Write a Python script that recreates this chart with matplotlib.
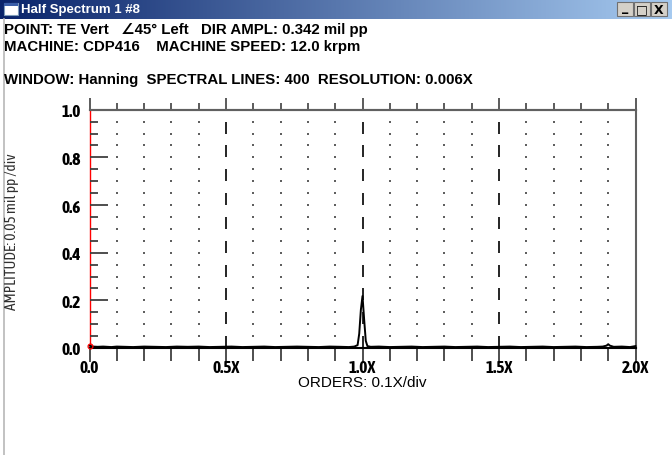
import numpy as np
import matplotlib
matplotlib.use("Agg")
import matplotlib.pyplot as plt
from matplotlib.patches import Rectangle
from matplotlib import font_manager as fm

# ---------------- data ----------------
orders = [0.000, 0.012, 0.030, 0.050, 0.080, 0.100, 0.130, 0.160, 0.200, 0.240,
          0.280, 0.320, 0.360, 0.400, 0.440, 0.480, 0.520, 0.560, 0.600, 0.640,
          0.680, 0.720, 0.760, 0.800, 0.840, 0.880, 0.920, 0.950, 0.970, 0.982,
          0.988, 0.994, 1.000, 1.006, 1.012, 1.018, 1.030, 1.060, 1.100, 1.140,
          1.180, 1.220, 1.260, 1.300, 1.340, 1.380, 1.420, 1.460, 1.500, 1.540,
          1.580, 1.620, 1.660, 1.700, 1.740, 1.780, 1.820, 1.860, 1.880, 1.894,
          1.900, 1.906, 1.920, 1.950, 1.980, 2.000]
amplitude = [0.010, 0.006, 0.005, 0.006, 0.004, 0.006, 0.005, 0.004, 0.006, 0.005,
             0.004, 0.006, 0.005, 0.006, 0.004, 0.005, 0.006, 0.004, 0.005, 0.006,
             0.004, 0.005, 0.006, 0.005, 0.004, 0.006, 0.005, 0.004, 0.006, 0.012,
             0.060, 0.160, 0.218, 0.120, 0.030, 0.008, 0.005, 0.006, 0.004, 0.005,
             0.006, 0.004, 0.005, 0.006, 0.004, 0.005, 0.006, 0.004, 0.005, 0.006,
             0.004, 0.005, 0.006, 0.004, 0.005, 0.006, 0.004, 0.005, 0.006, 0.010,
             0.016, 0.010, 0.005, 0.006, 0.004, 0.008]

x_ticks = [0.0, 0.5, 1.0, 1.5, 2.0]
x_tick_labels = ["0.0", "0.5X", "1.0X", "1.5X", "2.0X"]
y_ticks = [0.0, 0.2, 0.4, 0.6, 0.8, 1.0]
y_tick_labels = ["0.0", "0.2", "0.4", "0.6", "0.8", "1.0"]
x_minor = np.round(np.arange(0.0, 2.0001, 0.1), 3)
y_minor = np.round(np.arange(0.0, 1.0001, 0.05), 3)

title_text = "Half Spectrum 1 #8"
header1 = "POINT: TE Vert   \u222045\u00b0 Left   DIR AMPL: 0.342 mil pp"
header2 = "MACHINE: CDP416    MACHINE SPEED: 12.0 krpm"
header3 = "WINDOW: Hanning  SPECTRAL LINES: 400  RESOLUTION: 0.006X"
y_label = "AMPLITUDE: 0.05 mil pp /div"
x_label = "ORDERS: 0.1X/div"

# ---------------- fonts ----------------
entries = fm.fontManager.ttflist
narrow = None
for f in entries:
    if ("Narrow" in f.name or "Condensed" in f.name) and f.weight in ("bold", 700):
        narrow = f.name
        break
if narrow is None:
    narrow = "Liberation Sans"
hdr_fam = ["Liberation Sans", "DejaVu Sans"]
nar_fam = [narrow, "Liberation Sans", "DejaVu Sans"]

W, H = 672, 456
fig = plt.figure(figsize=(W / 100, H / 100), dpi=100)
fig.patch.set_facecolor("white")

def fx(px):
    return px / W

def fy(py):
    return 1 - py / H

# ---------------- title bar ----------------
tb_h = 20
tax = fig.add_axes([0, fy(tb_h), 1, tb_h / H])
grad = np.linspace(0, 1, 256)[None, :]
c0 = np.array([10, 36, 106]) / 255
c1 = np.array([166, 202, 240]) / 255
img = c0[None, None, :] * (1 - grad[..., None]) + c1[None, None, :] * grad[..., None]
tax.imshow(img, aspect="auto", extent=[0, W, tb_h, 0])
tax.set_xlim(0, W)
tax.set_ylim(tb_h, 0)
tax.axis("off")
# icon
tax.add_patch(Rectangle((4, 4), 14, 12, facecolor="white", edgecolor="#7f9db9", lw=0.8))
tax.add_patch(Rectangle((4, 4), 14, 3, facecolor="#3a5ea8", edgecolor="none"))
tax.text(21, 10, title_text, color="white", fontweight="bold", fontsize=9.5,
         va="center", ha="left", family=hdr_fam)
# buttons
for i, sym in enumerate(["_", "\u25a1", "X"]):
    bx = 617 + i * 17
    tax.add_patch(Rectangle((bx, 3), 16, 14, facecolor="#d4d0c8", edgecolor="#707070", lw=0.8))
    tax.text(bx + 8, 10 if sym != "_" else 7.5, sym, ha="center", va="center", fontsize=9,
             fontweight="bold", color="black", family=["DejaVu Sans"])

# ---------------- header text ----------------
fs_h = 10.8
fig.text(fx(4), fy(30), header1, fontsize=fs_h, fontweight="bold", va="center", ha="left", family=hdr_fam)
fig.text(fx(4), fy(47), header2, fontsize=fs_h, fontweight="bold", va="center", ha="left", family=hdr_fam)
fig.text(fx(4), fy(80), header3, fontsize=fs_h, fontweight="bold", va="center", ha="left", family=hdr_fam)

# window left border
fig.add_artist(plt.Line2D([fx(3.5), fx(3.5)], [0, fy(tb_h)], color="#b8b8b8", lw=1.2))

# ---------------- main axes ----------------
L, R, T, B = 89.5, 635.5, 110.7, 349
ax = fig.add_axes([fx(L), fy(B), (R - L) / W, (B - T) / H])
ax.set_xlim(0, 2.0)
ax.set_ylim(0, 1.0)

# dotted grid: points at minor x / minor y intersections
gx, gy = np.meshgrid(x_minor[1:-1], y_minor[1:-1])
mask = ~np.isin(np.round(gx, 3), [0.5, 1.0, 1.5])
ax.scatter(gx[mask], gy[mask], s=1.2, marker="s", color="#606060", linewidths=0, zorder=1)
# dashed major lines
for xv in x_ticks[1:-1]:
    for k in range(10):
        top = 1.0 - 0.05 - 0.1 * k
        ax.plot([xv, xv], [top - 0.05, top], color="black", lw=1.2, solid_capstyle="butt", zorder=1)

# spectrum trace
ax.plot(orders, amplitude, color="black", lw=1.4, zorder=3, clip_on=False)
ax.plot([orders[0]], [amplitude[0]], marker="o", ms=3.5, mfc="none", mec="red", mew=0.9,
        zorder=4, clip_on=False)

# spines
for s in ["top", "right"]:
    ax.spines[s].set_color("#606060")
    ax.spines[s].set_linewidth(1.5)
ax.spines["bottom"].set_color("black")
ax.spines["bottom"].set_linewidth(1.5)
ax.spines["left"].set_color("red")
ax.spines["left"].set_linewidth(1.0)
ax.spines["left"].set_zorder(0.5)

# ticks
ax.set_xticks(x_ticks)
ax.set_xticklabels(x_tick_labels)
ax.set_xticks(x_minor, minor=True)
ax.set_yticks(y_ticks)
ax.set_yticklabels(y_tick_labels)
ax.set_yticks(y_minor, minor=True)
ax.tick_params(axis="x", which="both", direction="out", top=False, bottom=True,
               color="#303030", width=1.2)
ax.tick_params(axis="x", which="major", length=10, pad=-2)
ax.tick_params(axis="x", which="minor", length=9)
ax.tick_params(axis="y", which="both", direction="in", left=True, right=False,
               color="#404040", width=1.3)
ax.tick_params(axis="y", which="major", length=13, pad=6)
ax.tick_params(axis="y", which="minor", length=6)
for tl in ax.yaxis.get_ticklines() + ax.yaxis.get_ticklines(minor=True):
    tl.set_color("#404040")
    tl.set_markeredgecolor("#404040")
for lbl in ax.get_xticklabels() + ax.get_yticklabels():
    lbl.set_fontfamily(nar_fam)
    lbl.set_fontweight("bold")
    lbl.set_fontsize(12.5)

# top ticks (short, outward)
top_ax = ax.secondary_xaxis("top")
top_ax.set_xticks(x_ticks)
top_ax.set_xticklabels([])
top_ax.set_xticks(x_minor, minor=True)
top_ax.tick_params(which="both", direction="out", color="#404040", width=1.2)
top_ax.tick_params(which="major", length=9)
top_ax.tick_params(which="minor", length=5)
top_ax.spines["top"].set_color("#606060")
top_ax.spines["top"].set_linewidth(1.5)

fig.text(fx(362), fy(383), x_label, fontsize=11, family=hdr_fam, va="center", ha="center")
fig.text(fx(12), fy(232), y_label, rotation=90, fontsize=11, va="center", ha="center",
         family=nar_fam, fontweight="normal", color="#303030")

fig.savefig("out.png", dpi=100)
